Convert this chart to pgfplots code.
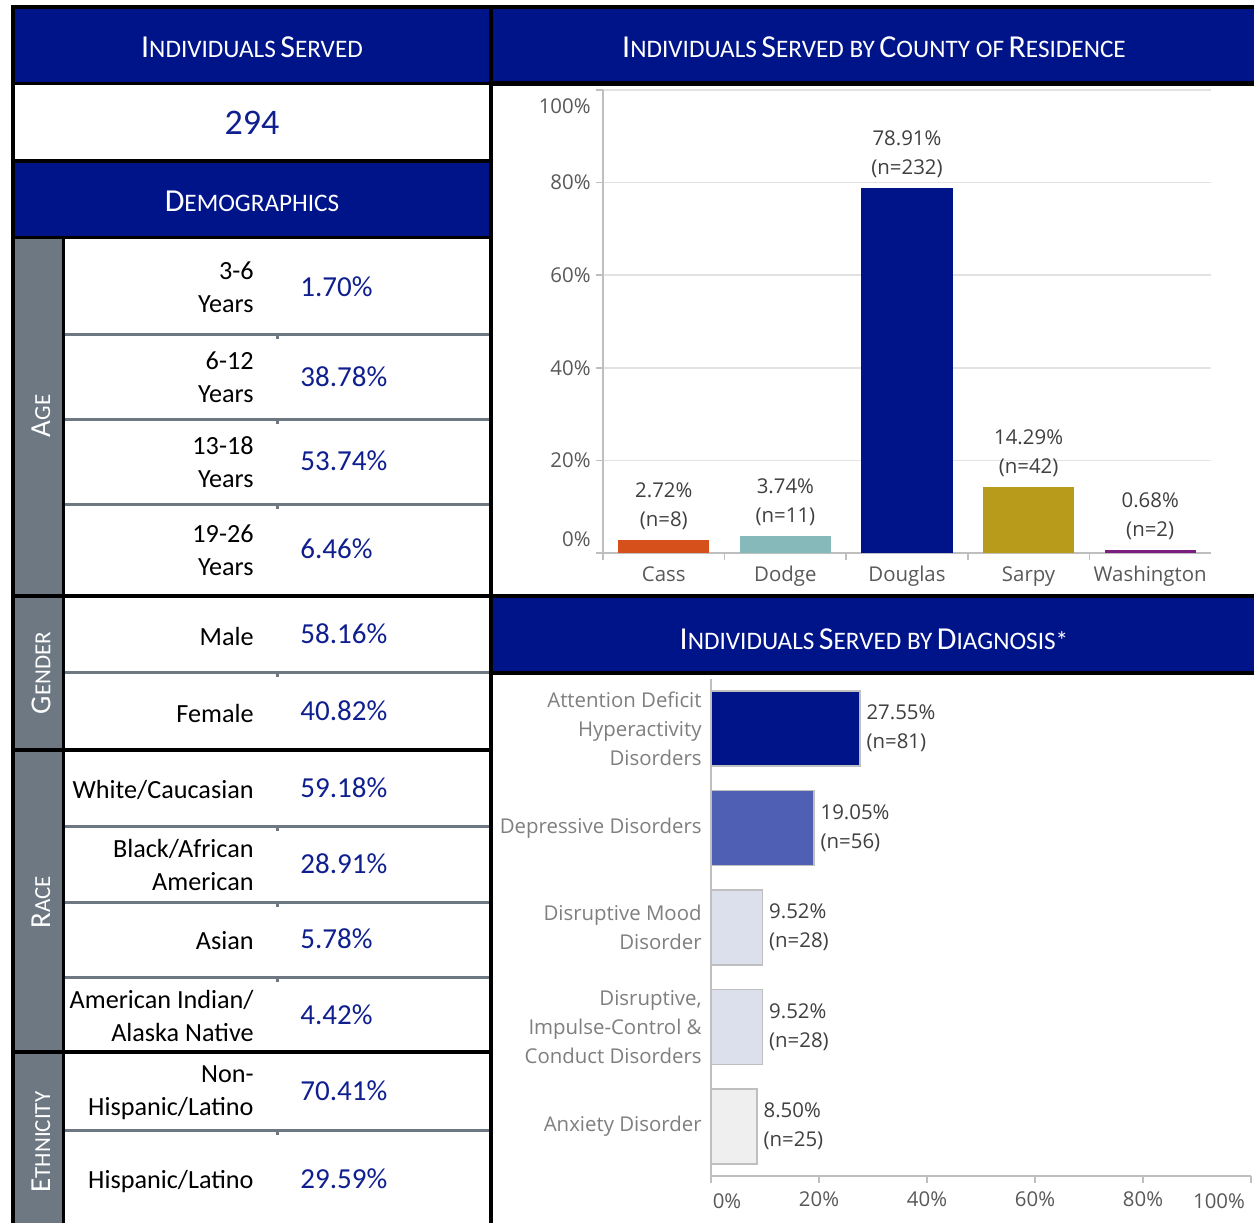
\documentclass[border=0pt]{standalone}
\usepackage{fontspec}
\setmainfont{Carlito}
\newfontfamily\chartfont{Open Sans}
\usepackage{pgfplots}
\pgfplotsset{compat=1.18}
\definecolor{navy}{HTML}{001489}
\definecolor{slate}{HTML}{6D7882}
\definecolor{valblue}{HTML}{0F1F8F}
\definecolor{cass}{HTML}{D5501A}
\definecolor{dodge}{HTML}{86BABA}
\definecolor{sarpy}{HTML}{B89B1A}
\definecolor{wash}{HTML}{7A1F7F}
\definecolor{depr}{HTML}{4F5FB3}
\definecolor{lightA}{HTML}{DCDFEC}
\definecolor{lightB}{HTML}{EFEFEF}
\definecolor{axgray}{HTML}{BFBFBF}
\definecolor{gridgray}{HTML}{E2E2E2}
\definecolor{txtgray}{HTML}{595959}
\definecolor{lblgray}{HTML}{404040}
\definecolor{catgray}{HTML}{7F7F7F}
\newcommand\HB{\fontsize{16pt}{18pt}\selectfont}
\newcommand\HS{\fontsize{12.6pt}{18pt}\selectfont}
\newcommand\sideB{\fontsize{14.5pt}{17pt}\selectfont}
\newcommand\sideS{\fontsize{11.5pt}{17pt}\selectfont}
\newcommand\rowf{\fontsize{13.1pt}{16.5pt}\selectfont}
\newcommand\valf{\fontsize{14.5pt}{16pt}\selectfont}
\newcommand\chf{\chartfont\fontsize{10.2pt}{14.5pt}\selectfont}
\newcommand\pct{\pgfmathprintnumber[fixed,fixed zerofill,precision=2,assume math mode=true]{\pgfplotspointmeta}\%}
\begin{document}
\begin{tikzpicture}
\path[use as bounding box] (0,0) rectangle (627pt,-611.5pt);
\begin{scope}[x=0.5pt,y=-0.5pt]
\fill[white] (0,0) rectangle (1254,1223);
\fill[black] (11,5) rectangle (1254,1223);
% left column
\fill[navy] (15,9) rectangle (489,82);
\fill[white] (15,85) rectangle (489,159);
\fill[navy] (15,163) rectangle (489,236);
\fill[slate] (15,239) rectangle (62,594);
\fill[slate] (15,598) rectangle (62,748);
\fill[slate] (15,752) rectangle (62,1050);
\fill[slate] (15,1054) rectangle (62,1223);
\fill[white] (65,239) rectangle (489,594);
\fill[white] (65,598) rectangle (489,748);
\fill[white] (65,752) rectangle (489,1050);
\fill[white] (65,1054) rectangle (489,1223);
\foreach \yy in {334,419,504,672,826,902,977,1130}{
  \fill[slate] (65,\yy-1.5) rectangle (489,\yy+1.5);
  \fill[slate] (276,\yy+1.5) rectangle (279,\yy+5);
}
% right column
\fill[navy] (493,9) rectangle (1254,81);
\fill[white] (493,86) rectangle (1254,594);
\fill[navy] (493,598) rectangle (1254,671);
\fill[white] (493,675) rectangle (1254,1223);
\end{scope}

% ---------- County chart ----------
\begin{axis}[
  at={(301.5pt,-276.5pt)}, anchor=south west,
  scale only axis, width=304pt, height=231.5pt,
  xmin=-0.5, xmax=4.5, ymin=0, ymax=100,
  axis x line*=bottom, axis y line*=left,
  axis line style={draw=axgray, line width=0.75pt},
  xtick={0,1,2,3,4}, xticklabels={Cass,Dodge,Douglas,Sarpy,Washington},
  major x tick style={draw=none},
  minor xtick={-0.5,0.5,1.5,2.5,3.5},
  minor tick length=3.5pt,
  ytick={0,20,40,60,80,100}, yticklabels={,20\%,40\%,60\%,80\%,},
  ymajorgrids, grid style={draw=gridgray, line width=0.75pt},
  tick align=outside, major tick length=3.5pt,
  tick style={draw=axgray, line width=0.75pt},
  ticklabel style={font=\chf, text=txtgray},
  yticklabel style={inner sep=0pt, xshift=-2.5pt},
  xticklabel style={inner sep=0pt, yshift=-3pt},
  every node near coord/.append style={align=center, anchor=south, inner sep=0pt, yshift=5pt, font=\chf, text=lblgray},
  clip=false,
]
\addplot[ybar, bar width=45.5pt, bar shift=0pt, fill=cass, draw=none,
  nodes near coords={\pct\\(n=8)}] coordinates {(0,2.72)};
\addplot[ybar, bar width=45.5pt, bar shift=0pt, fill=dodge, draw=none,
  nodes near coords={\pct\\(n=11)}] coordinates {(1,3.74)};
\addplot[ybar, bar width=45.5pt, bar shift=0pt, fill=navy, draw=none,
  nodes near coords={\pct\\(n=232)}] coordinates {(2,78.91)};
\addplot[ybar, bar width=45.5pt, bar shift=0pt, fill=sarpy, draw=none,
  nodes near coords={\pct\\(n=42)}] coordinates {(3,14.29)};
\addplot[ybar, bar width=45.5pt, bar shift=0pt, fill=wash, draw=none,
  nodes near coords={\pct\\(n=2)}] coordinates {(4,0.68)};
\end{axis}

% ---------- Diagnosis chart ----------
\begin{axis}[
  at={(355.5pt,-588pt)}, anchor=south west,
  scale only axis, width=270pt, height=248.5pt,
  xmin=0, xmax=100, ymin=-0.5, ymax=4.5,
  axis x line*=bottom, axis y line*=left,
  axis line style={draw=axgray, line width=0.75pt},
  xtick={0,20,40,60,80,100}, xticklabels={,20\%,40\%,60\%,80\%,},
  ytick={0,1,2,3,4},
  yticklabels={Anxiety Disorder,{Disruptive,\\Impulse-Control \&\\Conduct Disorders},{Disruptive Mood\\Disorder},Depressive Disorders,{Attention Deficit\\Hyperactivity\\Disorders}},
  major y tick style={draw=none},
  tick align=outside, major tick length=3.5pt,
  tick style={draw=axgray, line width=0.75pt},
  ticklabel style={font=\chf},
  xticklabel style={text=txtgray, inner sep=0pt, yshift=-4pt},
  yticklabel style={text=catgray, align=right, inner sep=0pt, xshift=-1pt},
  point meta=x,
  every node near coord/.append style={align=left, anchor=west, inner sep=0pt, xshift=3pt, font=\chf, text=lblgray},
  clip=false,
]
\addplot[xbar, bar width=37.5pt, bar shift=0pt, fill=navy, draw=axgray, line width=0.75pt,
  nodes near coords={\pct\\(n=81)}] coordinates {(27.55,4)};
\addplot[xbar, bar width=37.5pt, bar shift=0pt, fill=depr, draw=axgray, line width=0.75pt,
  nodes near coords={\pct\\(n=56)}] coordinates {(19.05,3)};
\addplot[xbar, bar width=37.5pt, bar shift=0pt, fill=lightA, draw=axgray, line width=0.75pt,
  nodes near coords={\pct\\(n=28)}] coordinates {(9.52,2)};
\addplot[xbar, bar width=37.5pt, bar shift=0pt, fill=lightA, draw=axgray, line width=0.75pt,
  nodes near coords={\pct\\(n=28)}] coordinates {(9.52,1)};
\addplot[xbar, bar width=37.5pt, bar shift=0pt, fill=lightB, draw=axgray, line width=0.75pt,
  nodes near coords={\pct\\(n=25)}] coordinates {(8.50,0)};
\end{axis}

\begin{scope}[x=0.5pt,y=-0.5pt]
% edge tick labels
\node[anchor=east, inner sep=0pt, font=\chf, text=txtgray] at (591,106) {100\%};
\node[anchor=east, inner sep=0pt, font=\chf, text=txtgray] at (591,539) {0\%};
\node[inner sep=0pt, font=\chf, text=txtgray] at (727,1201) {0\%};
\node[inner sep=0pt, font=\chf, text=txtgray] at (1219,1201) {100\%};
% headers
\node[text=white] at (252,47) {{\HB I}{\HS NDIVIDUALS} {\HB S}{\HS ERVED}};
\node[text=valblue] at (252,123) {\fontsize{18pt}{20pt}\selectfont 294};
\node[text=white] at (252,201) {{\HB D}{\HS EMOGRAPHICS}};
\node[text=white] at (874,47) {{\HB I}{\HS NDIVIDUALS} {\HB S}{\HS ERVED BY} {\HB C}{\HS OUNTY OF} {\HB R}{\HS ESIDENCE}};
\node[text=white] at (874,639) {{\HB I}{\HS NDIVIDUALS} {\HB S}{\HS ERVED BY} {\HB D}{\HS IAGNOSIS*}};
% side labels
\node[rotate=90, text=white] at (41,416) {{\sideB A}{\sideS GE}};
\node[rotate=90, text=white] at (41,673) {{\sideB G}{\sideS ENDER}};
\node[rotate=90, text=white] at (41,902) {{\sideB R}{\sideS ACE}};
\node[rotate=90, text=white] at (41,1142) {{\sideB E}{\sideS THNICITY}};
% row labels
\tikzset{rl/.style={anchor=east, align=right, font=\rowf, inner sep=0pt}, rv/.style={anchor=west, font=\valf, text=valblue, inner sep=0pt}}
\node[rl] at (254,287) {3-6\\Years};        \node[rv] at (300,287) {1.70\%};
\node[rl] at (254,377) {6-12\\Years};       \node[rv] at (300,377) {38.78\%};
\node[rl] at (254,462) {13-18\\Years};      \node[rv] at (300,461) {53.74\%};
\node[rl] at (254,550) {19-26\\Years};      \node[rv] at (300,549) {6.46\%};
\node[rl] at (254,636) {Male};              \node[rv] at (300,634) {58.16\%};
\node[rl] at (254,713) {Female};            \node[rv] at (300,711) {40.82\%};
\node[rl] at (254,790) {White/Caucasian};   \node[rv] at (300,788) {59.18\%};
\node[rl] at (254,865) {Black/African\\American}; \node[rv] at (300,864) {28.91\%};
\node[rl] at (254,941) {Asian};             \node[rv] at (300,939) {5.78\%};
\node[rl] at (254,1016) {American Indian/\\Alaska Native}; \node[rv] at (300,1015) {4.42\%};
\node[rl] at (254,1093) {Non-\\Hispanic/Latino}; \node[rv] at (300,1091) {70.41\%};
\node[rl] at (254,1181) {Hispanic/Latino};  \node[rv] at (300,1179) {29.59\%};
\end{scope}
\end{tikzpicture}
\end{document}
